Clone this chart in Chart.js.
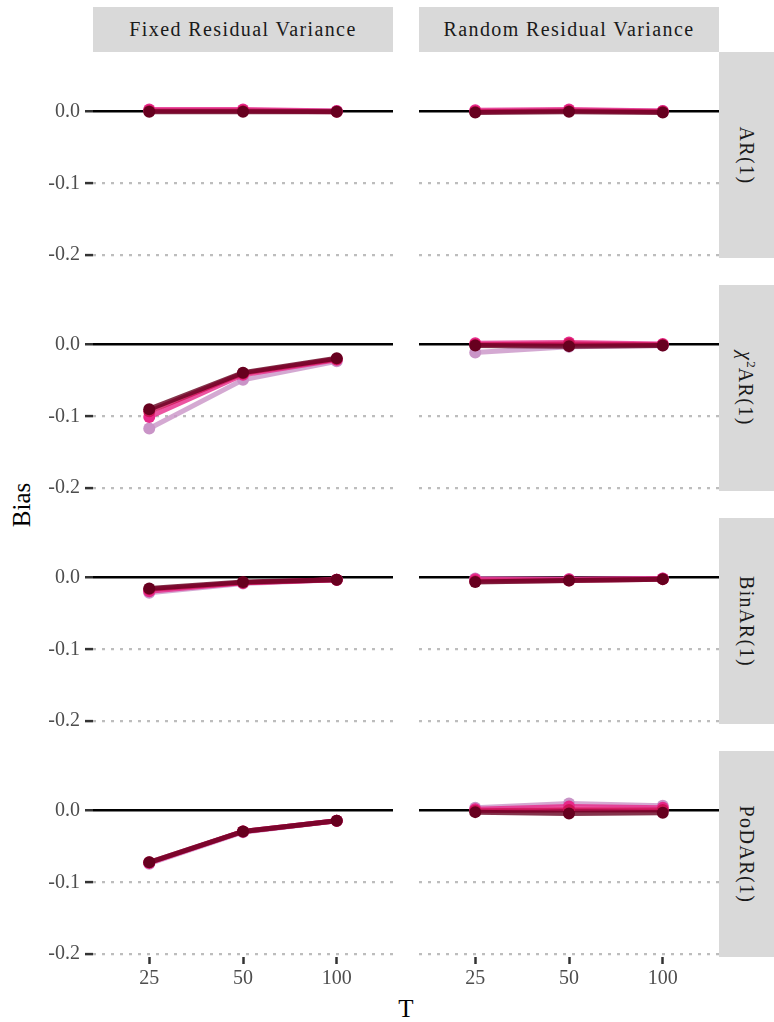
<!DOCTYPE html>
<html><head><meta charset="utf-8">
<script src="https://cdn.jsdelivr.net/npm/chart.js@4.4.1/dist/chart.umd.min.js"></script>
<style>
html,body{margin:0;padding:0;background:#fff;}
#wrap{position:relative;width:774px;height:1022px;overflow:hidden;font-family:"Liberation Serif","DejaVu Serif",serif;}
.strip{position:absolute;background:#d9d9d9;color:#1a1a1a;display:flex;align-items:center;justify-content:center;font-size:20px;letter-spacing:1.4px;}
.strip.v span{transform:rotate(90deg);white-space:nowrap;display:inline-block;}
.strip sup{font-size:13px;letter-spacing:0;}
canvas{position:absolute;}
.title{position:absolute;font-size:25px;color:#000;white-space:nowrap;}
</style></head>
<body><div id="wrap"></div>
<script>
// ---- data ----
const categories = ['25', '50', '100'];
const yTickValues = [0, -0.1, -0.2];
const yTickLabels = ['0.0', '-0.1', '-0.2'];
const columnLabels = ['Fixed Residual Variance', 'Random Residual Variance'];
const rowLabels = ['AR(1)', '<i>χ</i><sup>2</sup>AR(1)', 'BinAR(1)', 'PoDAR(1)'];

// each panel: 4 series (light -> dark), values at T = 25, 50, 100
const ar1Fixed  = [[0.002, 0.002, 0.001], [0.003, 0.003, 0.001], [0.001, 0.001, 0.000], [0.000, 0.000, 0.000]];
const ar1Random = [[0.001, 0.002, 0.001], [0.002, 0.003, 0.001], [0.000, 0.001, 0.000], [-0.001, 0.000, -0.001]];
const chiFixed  = [[-0.117, -0.049, -0.023], [-0.101, -0.042, -0.021], [-0.093, -0.040, -0.020], [-0.090, -0.039, -0.019]];
const chiRandom = [[-0.011, -0.003, -0.001], [0.002, 0.003, 0.001], [0.000, 0.001, 0.000], [-0.001, -0.002, -0.001]];
const binFixed  = [[-0.021, -0.008, -0.003], [-0.019, -0.007, -0.003], [-0.016, -0.007, -0.003], [-0.015, -0.006, -0.003]];
const binRandom = [[-0.001, -0.002, -0.001], [-0.002, -0.002, -0.001], [-0.005, -0.004, -0.002], [-0.006, -0.004, -0.002]];
const podFixed  = [[-0.074, -0.030, -0.014], [-0.073, -0.029, -0.014], [-0.072, -0.029, -0.014], [-0.072, -0.029, -0.014]];
const podRandom = [[0.004, 0.010, 0.007], [0.002, 0.006, 0.004], [0.000, 0.001, 0.001], [-0.002, -0.004, -0.003]];

// ---- style / layout ----
const panels = [[ar1Fixed, ar1Random], [chiFixed, chiRandom], [binFixed, binRandom], [podFixed, podRandom]];
const seriesColors = ['#c994c7', '#e7298a', '#ce1256', '#67001f'];
const LINE_ALPHA = 0.8;
const PANEL_W = 300, PANEL_H = 206, ROW_STEP = 233, TOP0 = 52, COL_LEFT = [93, 419];
const Y_MIN = -0.20417, Y_MAX = 0.0833;
const PAD = 24, XAXIS_H = 44;
const FONT = '"Liberation Serif","DejaVu Serif",serif';

function rgba(hex, a) {
  const n = parseInt(hex.slice(1), 16);
  return `rgba(${(n >> 16) & 255},${(n >> 8) & 255},${n & 255},${a})`;
}

const wrap = document.getElementById('wrap');

// strips
columnLabels.forEach((t, c) => {
  const d = document.createElement('div');
  d.className = 'strip';
  Object.assign(d.style, {left: COL_LEFT[c] + 'px', top: '7px', width: PANEL_W + 'px', height: '45px'});
  d.textContent = t;
  wrap.appendChild(d);
});
rowLabels.forEach((t, r) => {
  const d = document.createElement('div');
  d.className = 'strip v';
  Object.assign(d.style, {left: '719px', top: (TOP0 + ROW_STEP * r) + 'px', width: '55px', height: PANEL_H + 'px'});
  d.innerHTML = '<span>' + t + '</span>';
  wrap.appendChild(d);
});

// axis titles
const yt = document.createElement('div');
yt.className = 'title'; yt.textContent = 'Bias';
Object.assign(yt.style, {left: '22px', top: '505px', transform: 'translate(-50%,-50%) rotate(-90deg)'});
wrap.appendChild(yt);
const xt = document.createElement('div');
xt.className = 'title'; xt.textContent = 'T';
Object.assign(xt.style, {left: '406px', top: '1009px', transform: 'translate(-50%,-50%)'});
wrap.appendChild(xt);

const isZero = ctx => ctx.tick && ctx.tick.value === 0;

panels.forEach((row, r) => row.forEach((series, c) => {
  const bottomRow = r === panels.length - 1;
  const canvas = document.createElement('canvas');
  const side = 10;
  const axisW = c === 0 ? COL_LEFT[0] : 0;
  const padL = c === 0 ? 0 : side;
  const left = c === 0 ? 0 : COL_LEFT[1] - side;
  const w = padL + axisW + PANEL_W + side;
  const top = TOP0 + ROW_STEP * r - PAD;
  const h = PAD + PANEL_H + (bottomRow ? XAXIS_H : PAD);
  canvas.width = w; canvas.height = h;
  Object.assign(canvas.style, {left: left + 'px', top: top + 'px', width: w + 'px', height: h + 'px'});
  wrap.appendChild(canvas);
  new Chart(canvas, {
    type: 'line',
    data: {
      datasets: series.map((vals, i) => ({
        data: vals.map((v, j) => ({x: j, y: v})),
        order: series.length - 1 - i,
        borderColor: rgba(seriesColors[i], LINE_ALPHA),
        backgroundColor: seriesColors[i],
        pointBackgroundColor: seriesColors[i],
        pointBorderWidth: 0,
        pointRadius: 6,
        pointHoverRadius: 6,
        borderWidth: 5,
        tension: 0,
        clip: false
      }))
    },
    options: {
      responsive: false, animation: false, events: [],
      layout: {padding: {top: PAD, bottom: bottomRow ? 0 : PAD, left: padL, right: side}},
      plugins: {legend: {display: false}, tooltip: {enabled: false}},
      scales: {
        x: {
          type: 'linear', min: -0.6, max: 2.6, display: bottomRow,
          afterBuildTicks: s => { s.ticks = categories.map((_, i) => ({value: i})); },
          afterFit: s => { s.height = bottomRow ? XAXIS_H : 0; },
          ticks: {callback: (v, i) => categories[i], color: '#4d4d4d', font: {family: FONT, size: 20}, padding: 3, maxRotation: 0, autoSkip: false},
          grid: {display: true, drawOnChartArea: false, drawTicks: true, tickLength: 7, tickColor: '#333', tickWidth: 2.5},
          border: {display: false}
        },
        y: {
          type: 'linear', min: Y_MIN, max: Y_MAX,
          afterBuildTicks: s => { s.ticks = yTickValues.map(v => ({value: v})); },
          afterFit: s => { s.width = axisW; },
          ticks: {display: c === 0, callback: (v, i) => yTickLabels[i], color: '#4d4d4d', font: {family: FONT, size: 20}, padding: 5},
          grid: {
            color: ctx => isZero(ctx) ? '#000' : '#bdbdbd',
            lineWidth: ctx => isZero(ctx) ? 2.5 : 2.2,
            drawTicks: c === 0, tickLength: 8, tickColor: '#333', tickWidth: 2.5, tickBorderDash: []
          },
          border: {display: false, dash: ctx => isZero(ctx) ? [] : [3, 6]}
        }
      }
    }
  });
}));
</script>
</body></html>
